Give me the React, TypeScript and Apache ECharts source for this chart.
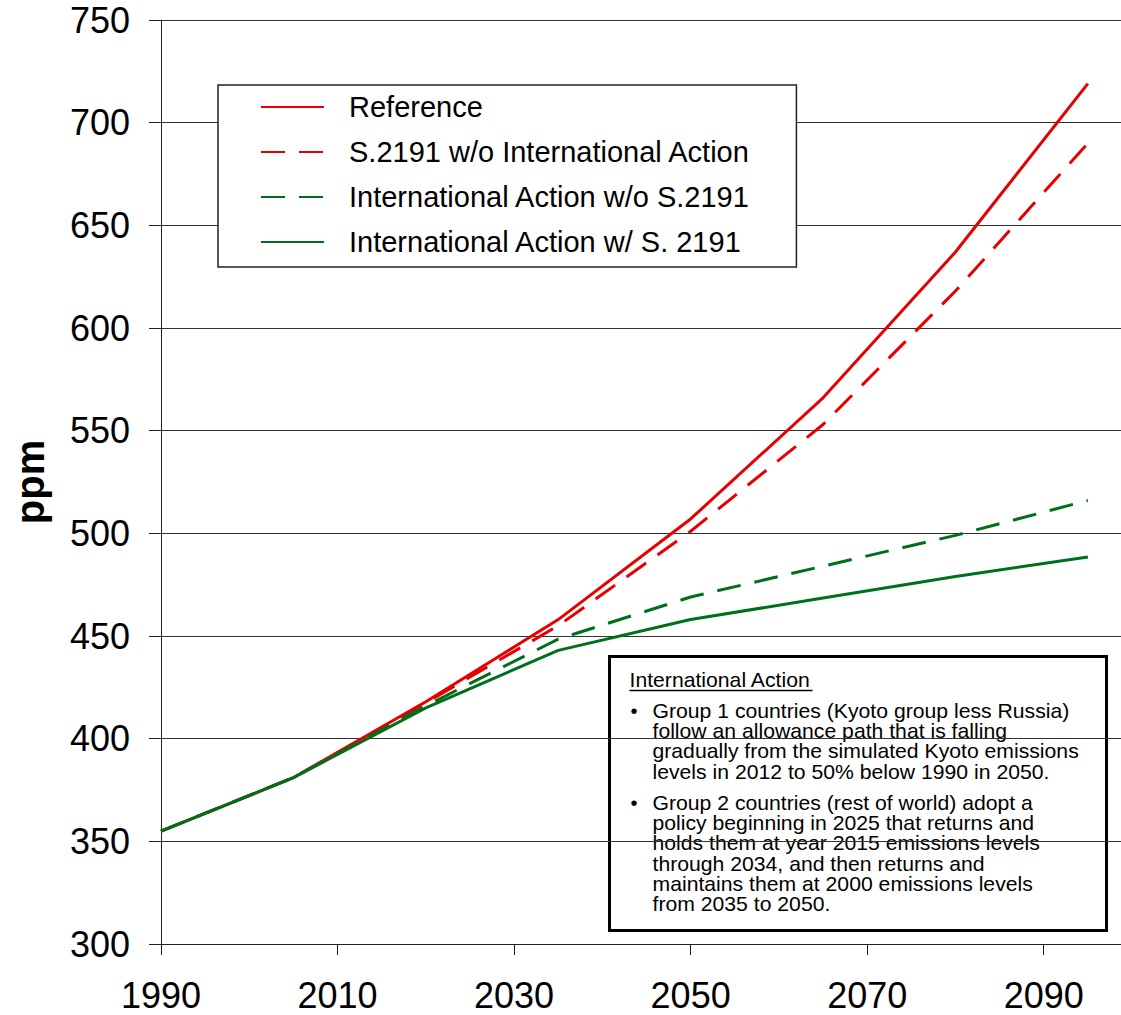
import React, { useEffect, useRef } from "react";
import * as echarts from "echarts";

const years = [1990, 2005, 2020, 2035, 2050, 2065, 2080, 2095];
const reference = [355, 381, 418, 458, 507, 566, 637, 719];
const s2191NoIntl = [355, 381, 417.5, 455, 501, 553, 618, 690];
const intlNoS2191 = [355, 381, 416, 448.5, 469, 484, 499, 516];
const intlWithS2191 = [355, 381, 415, 443, 458, 468.5, 479, 488.5];

const seriesNames = [
  "Reference",
  "S.2191 w/o International Action",
  "International Action w/o S.2191",
  "International Action w/ S. 2191",
];

const noteTitle = "International Action";
const noteBullet1 = [
  "Group 1 countries (Kyoto group less Russia)",
  "follow an allowance path that is falling",
  "gradually from the simulated Kyoto emissions",
  "levels in 2012 to 50% below 1990 in 2050.",
];
const noteBullet2 = [
  "Group 2 countries (rest of world) adopt a",
  "policy beginning in 2025 that returns and",
  "holds them at year 2015 emissions levels",
  "through 2034, and then returns and",
  "maintains them at 2000 emissions levels",
  "from 2035 to 2050.",
];

const FONT = "'Liberation Sans', Arial, sans-serif";
const RED = "#e60000";
const GREEN = "#006f1c";

const pair = (vals: number[]) => years.map((y, i) => [y, vals[i]]);

export default function App() {
  const ref = useRef<HTMLDivElement>(null);
  useEffect(() => {
    document.body.style.margin = "0";
    const chart = echarts.init(ref.current!, null, { renderer: "svg" });
    const mk = (name: string, vals: number[], color: string, dashed: boolean) => ({
      name,
      type: "line",
      data: pair(vals),
      symbol: "none",
      lineStyle: { color, width: 3, type: dashed ? [24, 14] : "solid" },
      itemStyle: { color },
      z: 3,
    });
    const step = 20.3;
    const lineTexts = (lines: string[], y0: number) =>
      lines.map((t, i) => ({
        type: "text",
        x: 0,
        y: y0 + i * step,
        style: { text: t, font: `20px ${FONT}`, fill: "#000" },
      }));
    chart.setOption({
      animation: false,
      backgroundColor: "#fff",
      grid: {
        left: 161,
        top: 20,
        bottom: 71,
        width: 971,
        containLabel: false,
        outerBoundsMode: "none",
      },
      xAxis: {
        type: "value",
        min: 1990,
        max: 2100,
        interval: 20,
        axisLine: { show: true, lineStyle: { color: "#222", width: 1 } },
        axisTick: { show: true, length: 11, lineStyle: { color: "#222" } },
        axisLabel: {
          fontSize: 36,
          lineHeight: 30,
          fontFamily: FONT,
          color: "#000",
          margin: 36,
          formatter: (v: number) => ((v - 1990) % 20 === 0 && v <= 2090 ? String(v) : ""),
        },
        splitLine: { show: false },
      },
      yAxis: {
        type: "value",
        min: 300,
        max: 750,
        interval: 50,
        name: "ppm",
        nameLocation: "middle",
        nameRotate: 90,
        nameGap: 111,
        nameTextStyle: { fontSize: 40, fontWeight: "bold", fontFamily: FONT, color: "#000" },
        axisLine: { show: true, lineStyle: { color: "#222", width: 1 } },
        axisTick: { show: true, length: 12, lineStyle: { color: "#222" } },
        axisLabel: { fontSize: 36, fontFamily: FONT, color: "#000", margin: 31 },
        splitLine: { show: true, lineStyle: { color: "#333", width: 1 } },
      },
      legend: {
        orient: "vertical",
        left: 218,
        top: 85,
        itemWidth: 63,
        itemHeight: 14,
        itemGap: 15,
        padding: [7, 46, 10, 42],
        borderColor: "#222",
        borderWidth: 1.5,
        backgroundColor: "#fff",
        data: seriesNames,
        itemStyle: { color: "transparent", borderWidth: 0, opacity: 0 },
        textStyle: {
          fontSize: 29,
          fontFamily: FONT,
          color: "#000",
          lineHeight: 30,
          padding: [0, 0, 0, 20],
        },
      },
      series: [
        mk(seriesNames[0], reference, RED, false),
        mk(seriesNames[1], s2191NoIntl, RED, true),
        mk(seriesNames[2], intlNoS2191, GREEN, true),
        mk(seriesNames[3], intlWithS2191, GREEN, false),
      ],
      graphic: [
        {
          type: "group",
          left: 608,
          top: 655,
          z: 10,
          children: [
            {
              type: "rect",
              shape: { x: 0, y: 0, width: 497, height: 274 },
              style: { fill: "#fff", stroke: "#000", lineWidth: 3 },
            },
            {
              type: "group",
              x: 20,
              y: 0,
              scaleX: 1.06,
              children: [
                {
                  type: "text",
                  x: 0,
                  y: 13,
                  style: { text: noteTitle, font: `20px ${FONT}`, fill: "#000" },
                },
              ],
            },
            {
              type: "line",
              shape: { x1: 20, y1: 34, x2: 203, y2: 34 },
              style: { stroke: "#000", lineWidth: 1.5 },
            },
            {
              type: "text",
              x: 21,
              y: 44,
              style: { text: "•", font: `20px ${FONT}`, fill: "#000" },
            },
            {
              type: "text",
              x: 21,
              y: 136,
              style: { text: "•", font: `20px ${FONT}`, fill: "#000" },
            },
            {
              type: "group",
              x: 43,
              y: 0,
              scaleX: 1.06,
              children: [...lineTexts(noteBullet1, 44), ...lineTexts(noteBullet2, 136)],
            },
          ],
        },
      ],
    });
    return () => chart.dispose();
  }, []);
  return (
    <div
      ref={ref}
      style={{ position: "absolute", left: 0, top: 0, width: 1121, height: 1015 }}
    />
  );
}
